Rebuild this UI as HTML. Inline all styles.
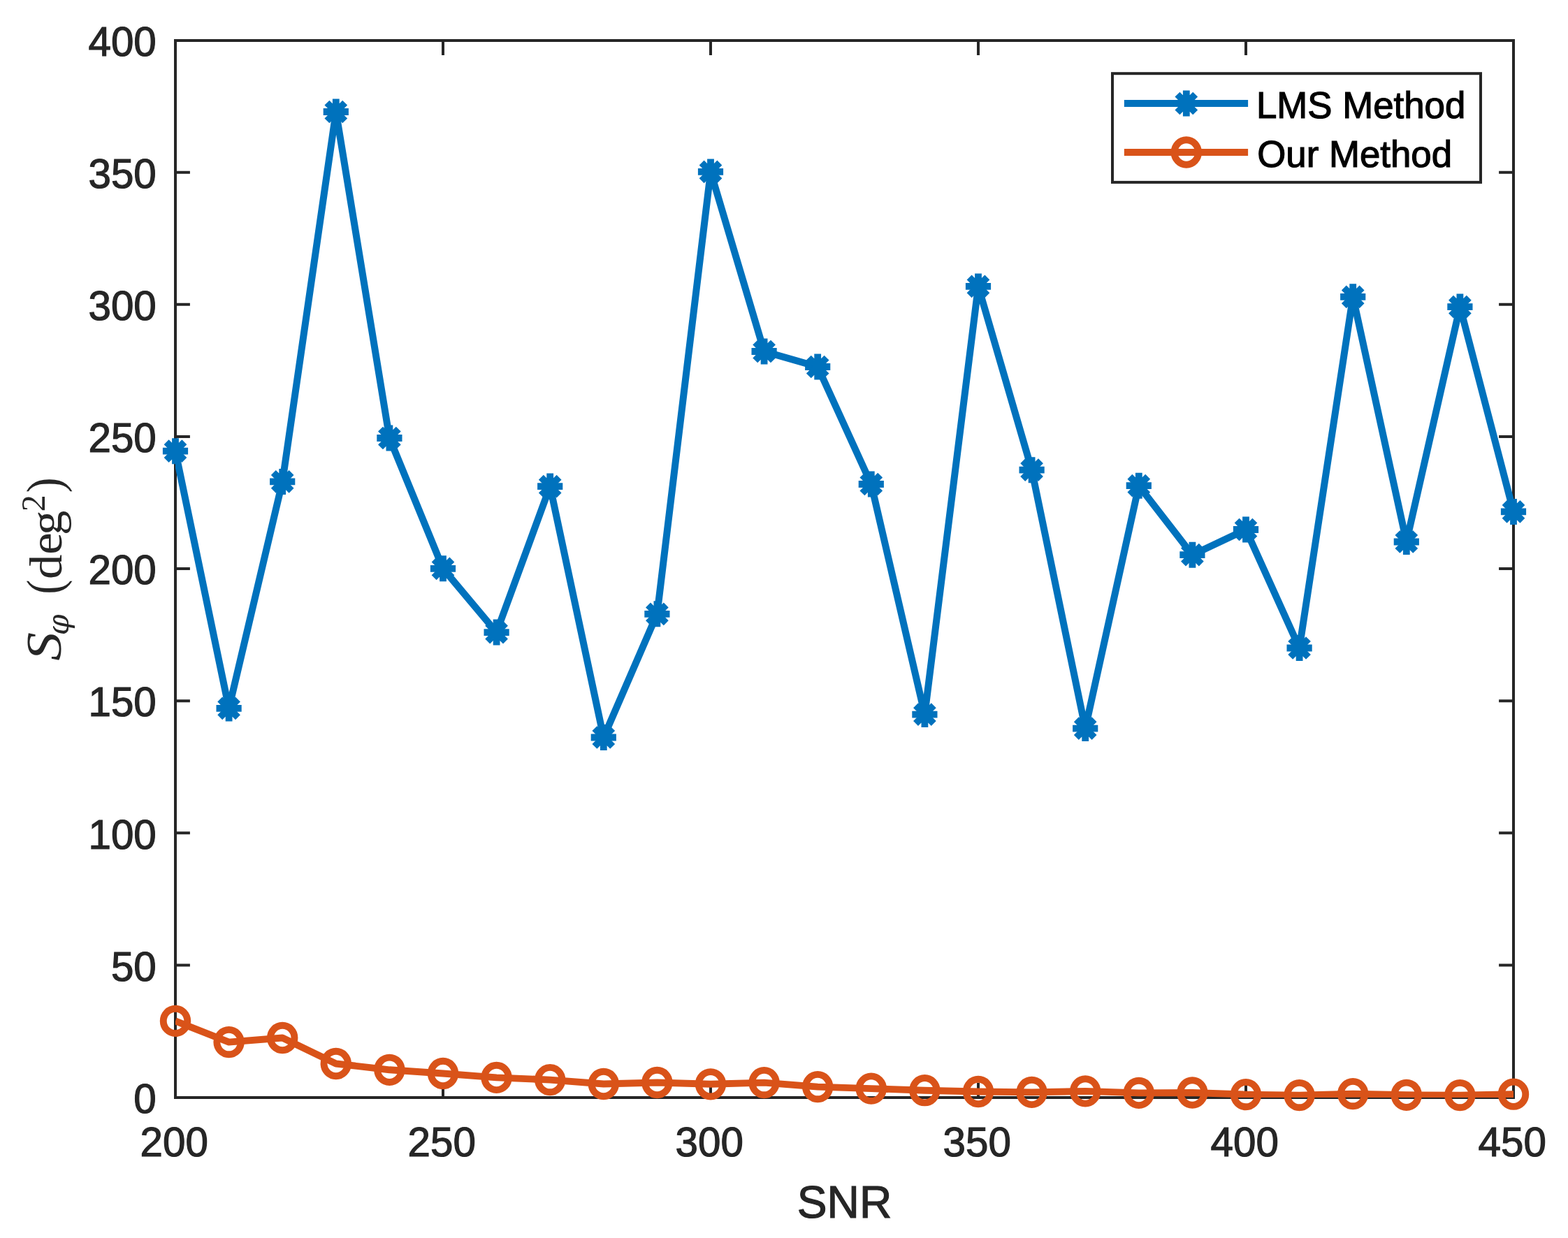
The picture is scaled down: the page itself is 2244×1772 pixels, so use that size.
<!DOCTYPE html>
<html lang="en"><head><meta charset="utf-8"><title>S phi versus SNR</title>
<style>
html,body{margin:0;padding:0;background:#fff;}
body{width:2244px;height:1772px;}
svg{display:block;}
text{font-family:"Liberation Sans",Arial,Helvetica,sans-serif;fill:#262626;}
.tk{font-size:58.33px;stroke:#262626;stroke-width:1.2;}
.xl{font-size:64.17px;stroke:#262626;stroke-width:1.2;}
.lg{font-size:52.8px;fill:#000;stroke:#000;stroke-width:1.2;}
.yl text{font-family:"Liberation Serif","DejaVu Serif",serif;stroke:#262626;stroke-width:0;}
</style></head><body>
<svg width="2244" height="1772" viewBox="0 0 2244 1772" role="img" aria-label="S phi (deg^2) versus SNR for LMS Method and Our Method">
<defs>
<clipPath id="ax"><rect x="251" y="58" width="1915" height="1513"/></clipPath>
<g id="star" fill="none" stroke="#0072BD" stroke-linecap="butt"><path d="M-18.1 0H18.1" stroke-width="9.8"/><path d="M0 -18.5V18.5 M-12.8693 -12.8693L12.8693 12.8693 M-12.8693 12.8693L12.8693 -12.8693" stroke-width="9.8"/></g>
<ellipse id="circ" rx="17.25" ry="17.7" fill="none" stroke="#D95319" stroke-width="9.9"/>
</defs>
<rect x="0" y="0" width="2244" height="1772" fill="#fff"/>
<g stroke="#262626" stroke-width="4" fill="none" stroke-linecap="butt">
<rect x="251" y="58" width="1915" height="1513"/>
<path d="M251.00 1571V1550.1 M251.00 58V78.9 M634.00 1571V1550.1 M634.00 58V78.9 M1017.00 1571V1550.1 M1017.00 58V78.9 M1400.00 1571V1550.1 M1400.00 58V78.9 M1783.00 1571V1550.1 M1783.00 58V78.9 M2166.00 1571V1550.1 M2166.00 58V78.9 M251 1571.00H271.9 M2166 1571.00H2145.1 M251 1381.47H271.9 M2166 1381.47H2145.1 M251 1192.35H271.9 M2166 1192.35H2145.1 M251 1003.23H271.9 M2166 1003.23H2145.1 M251 814.10H271.9 M2166 814.10H2145.1 M251 624.98H271.9 M2166 624.98H2145.1 M251 435.85H271.9 M2166 435.85H2145.1 M251 246.72H271.9 M2166 246.72H2145.1 M251 58.00H271.9 M2166 58.00H2145.1"/>
</g>
<g class="tk">
<text x="249.20" y="1655" text-anchor="middle">200</text>
<text x="632.20" y="1655" text-anchor="middle">250</text>
<text x="1015.20" y="1655" text-anchor="middle">300</text>
<text x="1398.20" y="1655" text-anchor="middle">350</text>
<text x="1781.20" y="1655" text-anchor="middle">400</text>
<text x="2164.20" y="1655" text-anchor="middle">450</text>
<text x="223.8" y="1592.80" text-anchor="end">0</text>
<text x="223.8" y="1403.67" text-anchor="end">50</text>
<text x="223.8" y="1214.55" text-anchor="end">100</text>
<text x="223.8" y="1025.42" text-anchor="end">150</text>
<text x="223.8" y="836.30" text-anchor="end">200</text>
<text x="223.8" y="647.17" text-anchor="end">250</text>
<text x="223.8" y="458.05" text-anchor="end">300</text>
<text x="223.8" y="268.93" text-anchor="end">350</text>
<text x="223.8" y="79.80" text-anchor="end">400</text>
</g>
<text class="xl" x="1208.5" y="1742.5" text-anchor="middle">SNR</text>
<g class="yl" transform="translate(88 945) rotate(-90)">
<text transform="translate(-0.73 -0.52) scale(1.277 1.117)" font-size="64" font-style="italic">S</text>
<text transform="translate(35.85 10.18) scale(1.067 1.06)" font-size="40" font-style="italic" style="font-family:'DejaVu Serif','Liberation Serif',serif">φ</text>
<text transform="translate(94.42 -0.46) scale(0.943 1.102)" font-size="66">(</text>
<text transform="translate(0 -0.45) scale(1.075 1)" x="107.99 140.61 166.48" y="0" font-size="66">deg</text>
<text transform="translate(212.77 -24.1) scale(1.044 1.051)" font-size="46">2</text>
<text transform="translate(239.84 -0.46) scale(0.996 1.102)" font-size="66">)</text>
</g>
<g clip-path="url(#ax)" fill="none" stroke-linejoin="round" stroke-linecap="butt">
<polyline points="251.00,645.70 327.60,1013.90 404.20,689.40 480.80,160.00 557.40,627.00 634.00,813.80 710.60,905.10 787.20,696.10 863.80,1055.50 940.40,878.80 1017.00,245.90 1093.60,503.00 1170.20,525.00 1246.80,693.00 1323.40,1022.60 1400.00,409.90 1476.60,672.70 1553.20,1042.60 1629.80,695.20 1706.40,794.20 1783.00,758.00 1859.60,927.50 1936.20,424.80 2012.80,775.50 2089.40,439.10 2166.00,732.40" stroke="#0072BD" stroke-width="10"/>
<polyline points="251.00,1461.40 327.60,1491.60 404.20,1485.50 480.80,1522.50 557.40,1531.30 634.00,1536.50 710.60,1542.40 787.20,1545.60 863.80,1551.50 940.40,1549.50 1017.00,1551.80 1093.60,1549.60 1170.20,1555.60 1246.80,1558.10 1323.40,1560.70 1400.00,1562.50 1476.60,1563.40 1553.20,1561.90 1629.80,1564.40 1706.40,1564.00 1783.00,1566.60 1859.60,1567.60 1936.20,1565.60 2012.80,1567.30 2089.40,1567.60 2166.00,1566.20" stroke="#D95319" stroke-width="9.9"/>
</g>
<g>
<use href="#star" x="251.00" y="645.70"/>
<use href="#star" x="327.60" y="1013.90"/>
<use href="#star" x="404.20" y="689.40"/>
<use href="#star" x="480.80" y="160.00"/>
<use href="#star" x="557.40" y="627.00"/>
<use href="#star" x="634.00" y="813.80"/>
<use href="#star" x="710.60" y="905.10"/>
<use href="#star" x="787.20" y="696.10"/>
<use href="#star" x="863.80" y="1055.50"/>
<use href="#star" x="940.40" y="878.80"/>
<use href="#star" x="1017.00" y="245.90"/>
<use href="#star" x="1093.60" y="503.00"/>
<use href="#star" x="1170.20" y="525.00"/>
<use href="#star" x="1246.80" y="693.00"/>
<use href="#star" x="1323.40" y="1022.60"/>
<use href="#star" x="1400.00" y="409.90"/>
<use href="#star" x="1476.60" y="672.70"/>
<use href="#star" x="1553.20" y="1042.60"/>
<use href="#star" x="1629.80" y="695.20"/>
<use href="#star" x="1706.40" y="794.20"/>
<use href="#star" x="1783.00" y="758.00"/>
<use href="#star" x="1859.60" y="927.50"/>
<use href="#star" x="1936.20" y="424.80"/>
<use href="#star" x="2012.80" y="775.50"/>
<use href="#star" x="2089.40" y="439.10"/>
<use href="#star" x="2166.00" y="732.40"/>
</g>
<g>
<use href="#circ" x="251.00" y="1461.40"/>
<use href="#circ" x="327.60" y="1491.60"/>
<use href="#circ" x="404.20" y="1485.50"/>
<use href="#circ" x="480.80" y="1522.50"/>
<use href="#circ" x="557.40" y="1531.30"/>
<use href="#circ" x="634.00" y="1536.50"/>
<use href="#circ" x="710.60" y="1542.40"/>
<use href="#circ" x="787.20" y="1545.60"/>
<use href="#circ" x="863.80" y="1551.50"/>
<use href="#circ" x="940.40" y="1549.50"/>
<use href="#circ" x="1017.00" y="1551.80"/>
<use href="#circ" x="1093.60" y="1549.60"/>
<use href="#circ" x="1170.20" y="1555.60"/>
<use href="#circ" x="1246.80" y="1558.10"/>
<use href="#circ" x="1323.40" y="1560.70"/>
<use href="#circ" x="1400.00" y="1562.50"/>
<use href="#circ" x="1476.60" y="1563.40"/>
<use href="#circ" x="1553.20" y="1561.90"/>
<use href="#circ" x="1629.80" y="1564.40"/>
<use href="#circ" x="1706.40" y="1564.00"/>
<use href="#circ" x="1783.00" y="1566.60"/>
<use href="#circ" x="1859.60" y="1567.60"/>
<use href="#circ" x="1936.20" y="1565.60"/>
<use href="#circ" x="2012.80" y="1567.30"/>
<use href="#circ" x="2089.40" y="1567.60"/>
<use href="#circ" x="2166.00" y="1566.20"/>
</g>
<rect x="1592" y="105.2" width="527" height="155.7" fill="#fff" stroke="#262626" stroke-width="4"/>
<path d="M1608.85 148H1786.1" stroke="#0072BD" stroke-width="10" fill="none"/>
<use href="#star" x="1697.8" y="148"/>
<path d="M1608.85 218H1786.1" stroke="#D95319" stroke-width="10" fill="none"/>
<use href="#circ" x="1697.8" y="218"/>
<text class="lg" x="1798" y="169.1">LMS Method</text>
<text class="lg" x="1799.3" y="239.1">Our Method</text>
</svg>
</body></html>
